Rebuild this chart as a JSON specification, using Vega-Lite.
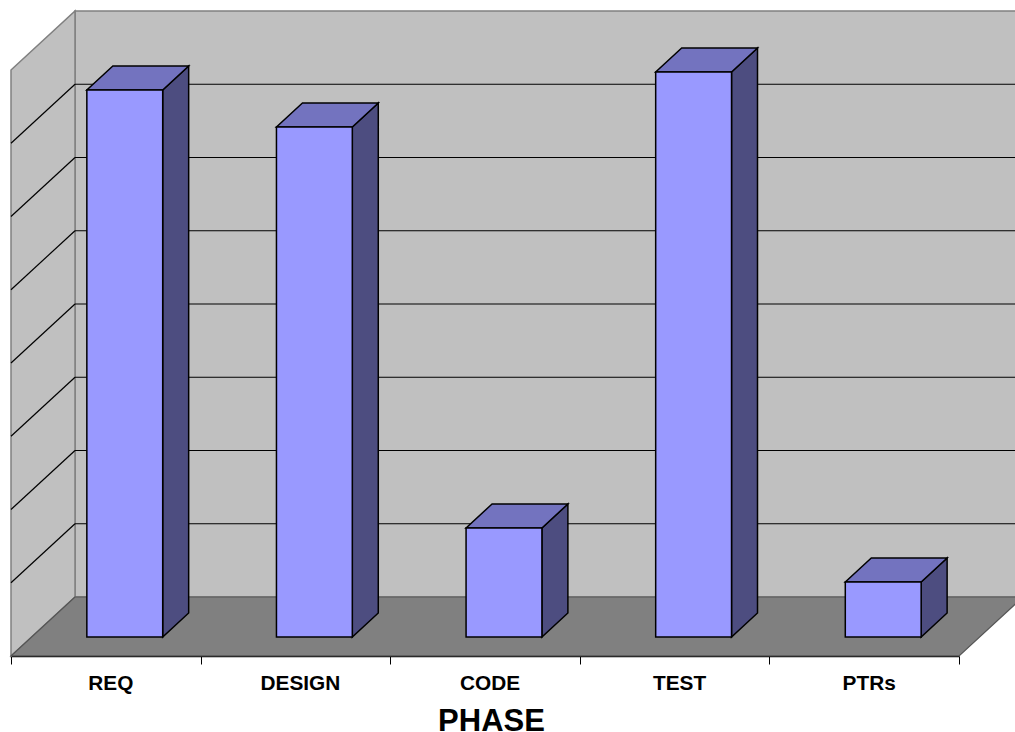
{
"$schema":"https://vega.github.io/schema/vega-lite/v6.json",
"width":1015,"height":732,"padding":0,"autosize":"none",
"background":"white",
"config":{"view":{"stroke":null}},
"datasets":{
"wall":[{"x":0.3376,"x2":5.337,"y":0,"y2":8}],
"leftWall":[{"x":0,"lo":-0.805,"hi":7.195},{"x":0.3376,"lo":0,"hi":8}],
"floor":[{"y":0,"xa":0.3376,"xb":5.337},{"y":-0.805,"xa":0,"xb":5}],
"grid":[{"x":0.3376,"x2":5.337,"y":1},{"x":0.3376,"x2":5.337,"y":2},{"x":0.3376,"x2":5.337,"y":3},{"x":0.3376,"x2":5.337,"y":4},{"x":0.3376,"x2":5.337,"y":5},{"x":0.3376,"x2":5.337,"y":6},{"x":0.3376,"x2":5.337,"y":7}],
"gridLeft":[{"x":0,"x2":0.3376,"y":0.195,"y2":1},{"x":0,"x2":0.3376,"y":1.195,"y2":2},{"x":0,"x2":0.3376,"y":2.195,"y2":3},{"x":0,"x2":0.3376,"y":3.195,"y2":4},{"x":0,"x2":0.3376,"y":4.195,"y2":5},{"x":0,"x2":0.3376,"y":5.195,"y2":6},{"x":0,"x2":0.3376,"y":6.195,"y2":7}],
"front":[
{"phase":"REQ","left":0.4,"right":0.8,"base":-0.546,"top":6.922},
{"phase":"DESIGN","left":1.4,"right":1.8,"base":-0.546,"top":6.416},
{"phase":"CODE","left":2.4,"right":2.8,"base":-0.546,"top":0.942},
{"phase":"TEST","left":3.4,"right":3.8,"base":-0.546,"top":7.167},
{"phase":"PTRs","left":4.4,"right":4.8,"base":-0.546,"top":0.205}],
"side":[
{"phase":"REQ","x":0.8,"lo":-0.546,"hi":6.922},{"phase":"REQ","x":0.937,"lo":-0.218,"hi":7.249},
{"phase":"DESIGN","x":1.8,"lo":-0.546,"hi":6.416},{"phase":"DESIGN","x":1.937,"lo":-0.218,"hi":6.744},
{"phase":"CODE","x":2.8,"lo":-0.546,"hi":0.942},{"phase":"CODE","x":2.937,"lo":-0.218,"hi":1.27},
{"phase":"TEST","x":3.8,"lo":-0.546,"hi":7.167},{"phase":"TEST","x":3.937,"lo":-0.218,"hi":7.495},
{"phase":"PTRs","x":4.8,"lo":-0.546,"hi":0.205},{"phase":"PTRs","x":4.937,"lo":-0.218,"hi":0.532}],
"cap":[
{"phase":"REQ","y":6.922,"xa":0.4,"xb":0.8},{"phase":"REQ","y":7.249,"xa":0.537,"xb":0.937},
{"phase":"DESIGN","y":6.416,"xa":1.4,"xb":1.8},{"phase":"DESIGN","y":6.744,"xa":1.537,"xb":1.937},
{"phase":"CODE","y":0.942,"xa":2.4,"xb":2.8},{"phase":"CODE","y":1.27,"xa":2.537,"xb":2.937},
{"phase":"TEST","y":7.167,"xa":3.4,"xb":3.8},{"phase":"TEST","y":7.495,"xa":3.537,"xb":3.937},
{"phase":"PTRs","y":0.205,"xa":4.4,"xb":4.8},{"phase":"PTRs","y":0.532,"xa":4.537,"xb":4.937}],
"phases":[{"phase":"REQ"},{"phase":"DESIGN"},{"phase":"CODE"},{"phase":"TEST"},{"phase":"PTRs"}]
},
"resolve":{"scale":{"x":"independent"},"axis":{"x":"independent"}},
"layer":[
{
"encoding":{
"x":{"field":"x","type":"quantitative","axis":null,"scale":{"domain":[-0.058,5.295],"nice":false,"zero":false}},
"y":{"field":"y","type":"quantitative","axis":null,"scale":{"domain":[-1.843,8.15],"nice":false,"zero":false}}
},
"layer":[
{"data":{"name":"wall"},"mark":{"type":"rect","fill":"#C0C0C0","stroke":"#808080","strokeWidth":1.5,"clip":true},
"encoding":{"x2":{"field":"x2"},"y2":{"field":"y2"}}},
{"data":{"name":"leftWall"},"mark":{"type":"area","fill":"#C0C0C0","stroke":"#808080","strokeWidth":1.5,"orient":"vertical"},
"encoding":{"y":{"field":"hi","type":"quantitative"},"y2":{"field":"lo"}}},
{"data":{"name":"grid"},"mark":{"type":"rule","stroke":"#000000","strokeWidth":1.2,"clip":true},
"encoding":{"x2":{"field":"x2"}}},
{"data":{"name":"gridLeft"},"mark":{"type":"rule","stroke":"#000000","strokeWidth":1.2},
"encoding":{"x2":{"field":"x2"},"y2":{"field":"y2"}}},
{"data":{"name":"floor"},"mark":{"type":"area","fill":"#808080","stroke":"#555555","strokeWidth":1.2,"orient":"horizontal","clip":true},
"encoding":{"x":{"field":"xa","type":"quantitative"},"x2":{"field":"xb"}}},
{"data":{"name":"side"},"mark":{"type":"area","fill":"#4D4D80","stroke":"#000000","strokeWidth":1.5,"orient":"vertical"},
"encoding":{"y":{"field":"hi","type":"quantitative"},"y2":{"field":"lo"},"detail":{"field":"phase"}}},
{"data":{"name":"cap"},"mark":{"type":"area","fill":"#7373BF","stroke":"#000000","strokeWidth":1.5,"orient":"horizontal"},
"encoding":{"x":{"field":"xa","type":"quantitative"},"x2":{"field":"xb"},"detail":{"field":"phase"}}},
{"data":{"name":"front"},"mark":{"type":"rect","fill":"#9999FF","stroke":"#000000","strokeWidth":1.5},
"encoding":{"x":{"field":"left","type":"quantitative"},"x2":{"field":"right"},"y":{"field":"top","type":"quantitative"},"y2":{"field":"base"}}}
]
},
{
"data":{"name":"phases"},
"mark":{"type":"point","opacity":0},
"encoding":{
"x":{"field":"phase","type":"nominal","sort":null,
"scale":{"type":"band","domain":["REQ","DESIGN","CODE","TEST","PTRs"],"range":[11,959],"paddingInner":0,"paddingOuter":0},
"title":"PHASE",
"axis":{"orient":"bottom","offset":-76,"labelAngle":0,"tickBand":"extent","domainColor":"#000000","domainWidth":1.5,"tickColor":"#000000","tickWidth":1,"tickSize":8,
"labelFont":"Liberation Sans","labelFontWeight":"bold","labelFontSize":20.8,"labelColor":"#000000","labelPadding":9,"labelOffset":4.5,
"titleFont":"Liberation Sans","titleFontWeight":"bold","titleFontSize":31,"titleColor":"#000000","titlePadding":14,"titleX":491}}
}
}
]
}
